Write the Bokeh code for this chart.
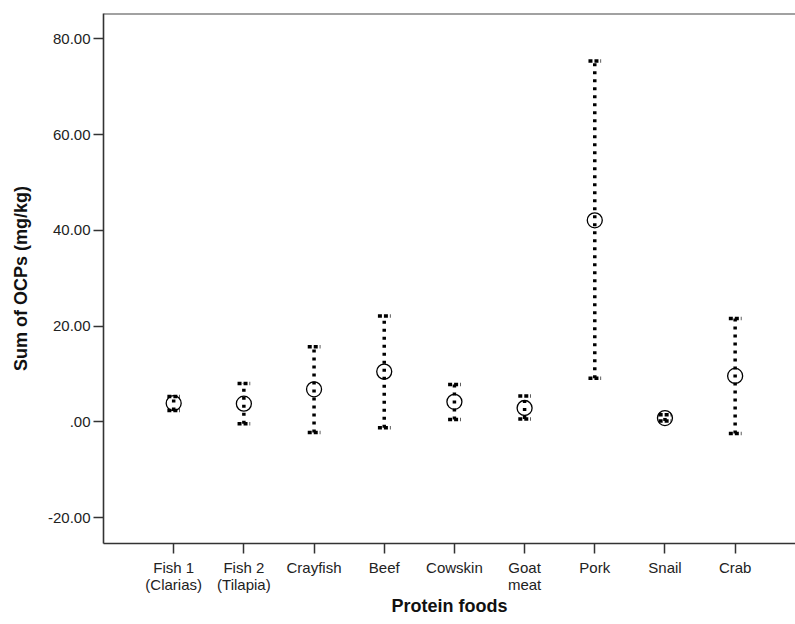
from bokeh.plotting import figure
from bokeh.models import Range1d, FixedTicker, ColumnDataSource, Span
from bokeh.embed import file_html
from bokeh.resources import INLINE

categories = ["Fish 1\n(Clarias)", "Fish 2\n(Tilapia)", "Crayfish", "Beef", "Cowskin",
              "Goat\nmeat", "Pork", "Snail", "Crab"]
means = [3.9, 3.8, 6.8, 10.5, 4.2, 2.9, 42.1, 0.8, 9.6]
lower = [2.4, -0.4, -2.2, -1.2, 0.5, 0.6, 9.1, 0.2, -2.4]
upper = [5.3, 8.0, 15.7, 22.1, 7.8, 5.4, 75.4, 1.5, 21.6]
y_ticks = [-20, 0, 20, 40, 60, 80]
y_labels = ["-20.00", ".00", "20.00", "40.00", "60.00", "80.00"]

xs = list(range(1, len(categories) + 1))
y_start, y_end = -25.4, 85.3
cap = 0.09

p = figure(width=795, height=624, output_backend="svg", toolbar_location=None,
           x_range=Range1d(0, 9.86), y_range=Range1d(y_start, y_end),
           min_border_left=103, min_border_top=13, min_border_right=0, min_border_bottom=81)

p.xgrid.visible = False
p.ygrid.visible = False
p.outline_line_color = None

src = ColumnDataSource(dict(x=xs, mean=means, lower=lower, upper=upper,
                            xl=[x - cap for x in xs], xr=[x + cap for x in xs]))

p.segment(x0="x", y0="lower", x1="x", y1="upper", source=src, line_color="black",
          line_width=3.5, line_dash="3 5", line_cap="butt")
p.segment(x0="xl", y0="upper", x1="xr", y1="upper", source=src, line_color="black",
          line_width=3.5, line_dash="4 2", line_cap="butt")
p.segment(x0="xl", y0="lower", x1="xr", y1="lower", source=src, line_color="black",
          line_width=3.5, line_dash="4 2", line_cap="butt")

p.scatter("x", "mean", source=src, marker="circle", size=15, fill_color=None,
          line_color="black", line_width=1.3)

p.add_layout(Span(location=y_end, dimension="width", line_color="#444", line_width=2))

font = "Liberation Sans"
for ax in (p.xaxis[0], p.yaxis[0]):
    ax.axis_line_color = "#333"
    ax.axis_line_width = 1.6
    ax.major_tick_line_color = "#333"
    ax.major_tick_line_width = 1.5
    ax.major_tick_out = 10
    ax.major_tick_in = 0
    ax.minor_tick_out = 0
    ax.minor_tick_in = 0
    ax.major_label_text_font = font
    ax.major_label_text_font_size = "15px"
    ax.major_label_text_color = "#222"
    ax.major_label_text_line_height = 1.0
    ax.axis_label_text_font = font
    ax.axis_label_text_font_style = "bold"
    ax.axis_label_text_font_size = "18px"
    ax.axis_label_text_color = "#111"

p.yaxis[0].ticker = FixedTicker(ticks=y_ticks)
p.yaxis[0].major_label_overrides = dict(zip(y_ticks, y_labels))
p.yaxis[0].major_label_standoff = 3
p.yaxis[0].axis_label = "Sum of OCPs (mg/kg)"
p.yaxis[0].axis_label_standoff = 14

p.xaxis[0].ticker = FixedTicker(ticks=xs)
p.xaxis[0].major_label_overrides = dict(zip(xs, categories))
p.xaxis[0].major_label_standoff = 5
p.xaxis[0].axis_label = "Protein foods"
p.xaxis[0].axis_label_standoff = 0

open("out.html", "w").write(file_html(p, INLINE))
